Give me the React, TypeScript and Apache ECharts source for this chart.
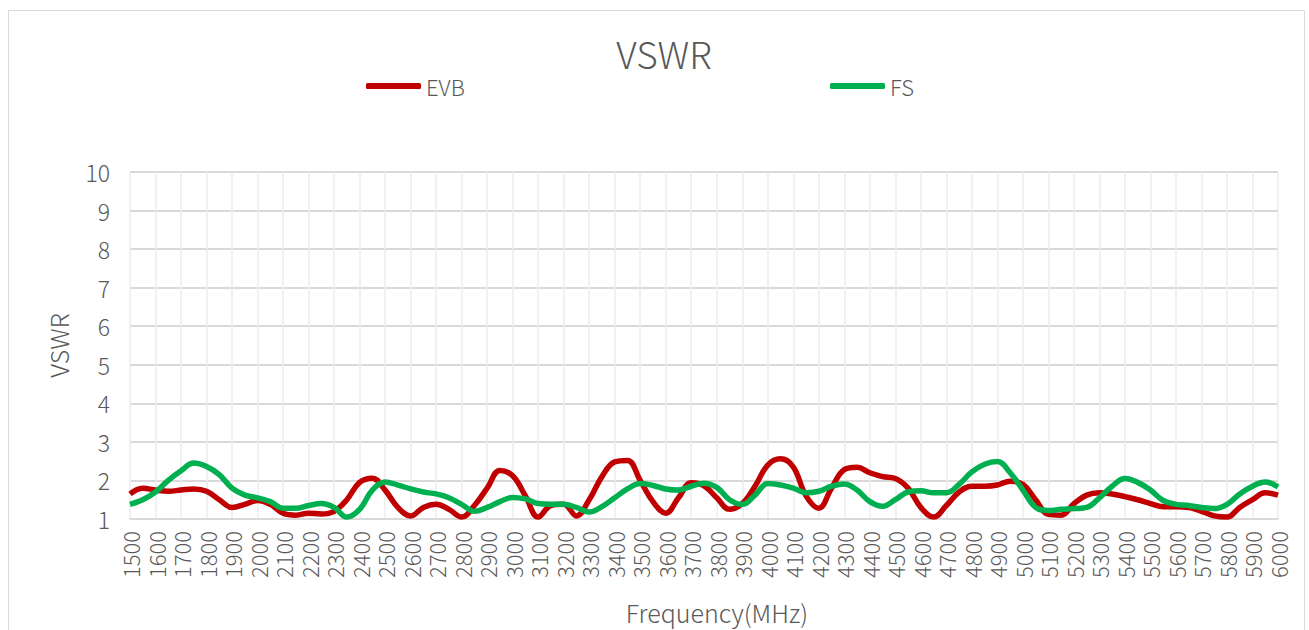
import React, { useEffect, useRef } from "react";
import * as echarts from "echarts";

const freqs: number[] = [
  1500, 1550, 1600, 1650, 1700, 1750, 1800, 1850, 1900, 1950,
  2000, 2050, 2100, 2150, 2200, 2250, 2300, 2350, 2400, 2450,
  2500, 2550, 2600, 2650, 2700, 2750, 2800, 2850, 2900, 2950,
  3000, 3050, 3100, 3150, 3200, 3250, 3300, 3350, 3400, 3450,
  3500, 3550, 3600, 3650, 3700, 3750, 3800, 3850, 3900, 3950,
  4000, 4050, 4100, 4150, 4200, 4250, 4300, 4350, 4400, 4450,
  4500, 4550, 4600, 4650, 4700, 4750, 4800, 4850, 4900, 4950,
  5000, 5050, 5100, 5150, 5200, 5250, 5300, 5350, 5400, 5450,
  5500, 5550, 5600, 5650, 5700, 5750, 5800, 5850, 5900, 5950,
  6000,
];

const evb: number[] = [
  1.65, 1.8, 1.75, 1.72, 1.75, 1.78, 1.72, 1.5, 1.3, 1.38,
  1.48, 1.38, 1.15, 1.1, 1.15, 1.13, 1.2, 1.5, 1.95, 2.06,
  1.75, 1.3, 1.08, 1.3, 1.38, 1.25, 1.05, 1.35, 1.8, 2.26,
  2.12, 1.6, 1.05, 1.35, 1.38, 1.08, 1.5, 2.1, 2.48, 2.52,
  2.0, 1.45, 1.15, 1.55, 1.94, 1.86, 1.55, 1.25, 1.4, 1.85,
  2.4, 2.56, 2.35, 1.6, 1.28, 1.8, 2.28, 2.34, 2.2, 2.1,
  2.05, 1.8, 1.3, 1.05, 1.35, 1.7, 1.85, 1.85, 1.88, 1.98,
  1.9, 1.5, 1.12, 1.1, 1.4, 1.62, 1.68, 1.65, 1.58, 1.5,
  1.4, 1.32, 1.32, 1.3, 1.2, 1.08, 1.05, 1.3, 1.5, 1.68,
  1.62,
];

const fs: number[] = [
  1.38, 1.5, 1.7, 2.0, 2.25, 2.45, 2.36, 2.15, 1.8, 1.62,
  1.55, 1.45, 1.28, 1.28, 1.35, 1.4, 1.3, 1.05, 1.25, 1.75,
  1.96, 1.88, 1.78, 1.7, 1.65, 1.55, 1.38, 1.2, 1.3, 1.45,
  1.56, 1.52, 1.4, 1.38, 1.38, 1.3, 1.18, 1.32, 1.55, 1.78,
  1.92, 1.87, 1.78, 1.75, 1.85, 1.93, 1.82, 1.5, 1.38, 1.62,
  1.92, 1.88, 1.8, 1.68, 1.72, 1.85, 1.91, 1.75, 1.45, 1.33,
  1.5, 1.7, 1.73, 1.68, 1.68, 1.9, 2.22, 2.42, 2.49, 2.2,
  1.75, 1.3, 1.22, 1.25, 1.27, 1.3, 1.55, 1.85, 2.05, 1.95,
  1.75, 1.48, 1.38, 1.35, 1.3, 1.27, 1.38, 1.65, 1.85, 1.96,
  1.83,
];

const FONT = "'Noto Sans CJK SC', 'Noto Sans', sans-serif";
const TEXT = "#595959";
const GRID = "#d9d9d9";
const W = 300;

export default function App() {
  const ref = useRef<HTMLDivElement>(null);
  useEffect(() => {
    if (!ref.current) return;
    const chart = echarts.init(ref.current, undefined, { renderer: "svg" });
    chart.setOption({
      animation: false,
      backgroundColor: "#ffffff",
      textStyle: { fontFamily: FONT, fontWeight: W },
      title: {
        text: "VSWR",
        left: 659,
        textAlign: "center",
        top: 29,
        textStyle: { fontFamily: FONT, fontSize: 37, fontWeight: W, color: TEXT },
      },
      legend: [
        {
          data: ["EVB"],
          left: 361,
          top: 70,
          itemWidth: 55,
          itemHeight: 6,
          itemGap: 10,
          icon: "roundRect",
          textStyle: { fontFamily: FONT, fontSize: 22, fontWeight: W, color: TEXT },
        },
        {
          data: ["FS"],
          left: 825,
          top: 70,
          itemWidth: 55,
          itemHeight: 6,
          icon: "roundRect",
          textStyle: { fontFamily: FONT, fontSize: 22, fontWeight: W, color: TEXT },
        },
      ],
      graphic: [
        {
          type: "rect",
          shape: { x: 8.5, y: 10.5, width: 1296, height: 640 },
          style: { fill: "none", stroke: GRID, lineWidth: 1 },
          silent: true,
        },
      ],
      grid: { left: 130, right: 31, top: 172, bottom: 111 },
      xAxis: {
        type: "value",
        min: 1500,
        max: 6000,
        interval: 100,
        name: "Frequency(MHz)",
        nameLocation: "middle",
        nameGap: 80,
        nameTextStyle: {
          fontFamily: FONT,
          fontSize: 25,
          fontWeight: W,
          color: TEXT,
          padding: [0, 0, 0, 26],
        },
        axisLine: { show: true, lineStyle: { color: GRID, width: 2 } },
        axisTick: { show: false },
        axisLabel: {
          rotate: 90,
          fontSize: 22,
          fontWeight: W,
          color: TEXT,
          margin: 12,
          fontFamily: FONT,
          showMinLabel: true,
          showMaxLabel: true,
          formatter: (v: number) => String(v),
        },
        splitLine: { show: true, lineStyle: { color: "#ececec", width: 1.5 } },
      },
      yAxis: {
        type: "value",
        min: 1,
        max: 10,
        interval: 1,
        name: "VSWR",
        nameLocation: "middle",
        nameGap: 60,
        nameTextStyle: { fontFamily: FONT, fontSize: 25, fontWeight: W, color: TEXT },
        axisLine: { show: false },
        axisTick: { show: false },
        axisLabel: { fontSize: 23, fontWeight: W, color: TEXT, margin: 20, fontFamily: FONT },
        splitLine: { show: true, lineStyle: { color: GRID, width: 2 } },
      },
      series: [
        {
          name: "EVB",
          type: "line",
          data: freqs.map((f, i) => [f, evb[i]]),
          smooth: 0.4,
          showSymbol: false,
          symbol: "none",
          lineStyle: { color: "#C00000", width: 5.5 },
          itemStyle: { color: "#C00000" },
        },
        {
          name: "FS",
          type: "line",
          data: freqs.map((f, i) => [f, fs[i]]),
          smooth: 0.4,
          showSymbol: false,
          symbol: "none",
          lineStyle: { color: "#00B050", width: 5.5 },
          itemStyle: { color: "#00B050" },
        },
      ],
    });
    return () => chart.dispose();
  }, []);
  return (
    <div
      ref={ref}
      style={{ position: "fixed", left: 0, top: 0, width: 1309, height: 630 }}
    />
  );
}
